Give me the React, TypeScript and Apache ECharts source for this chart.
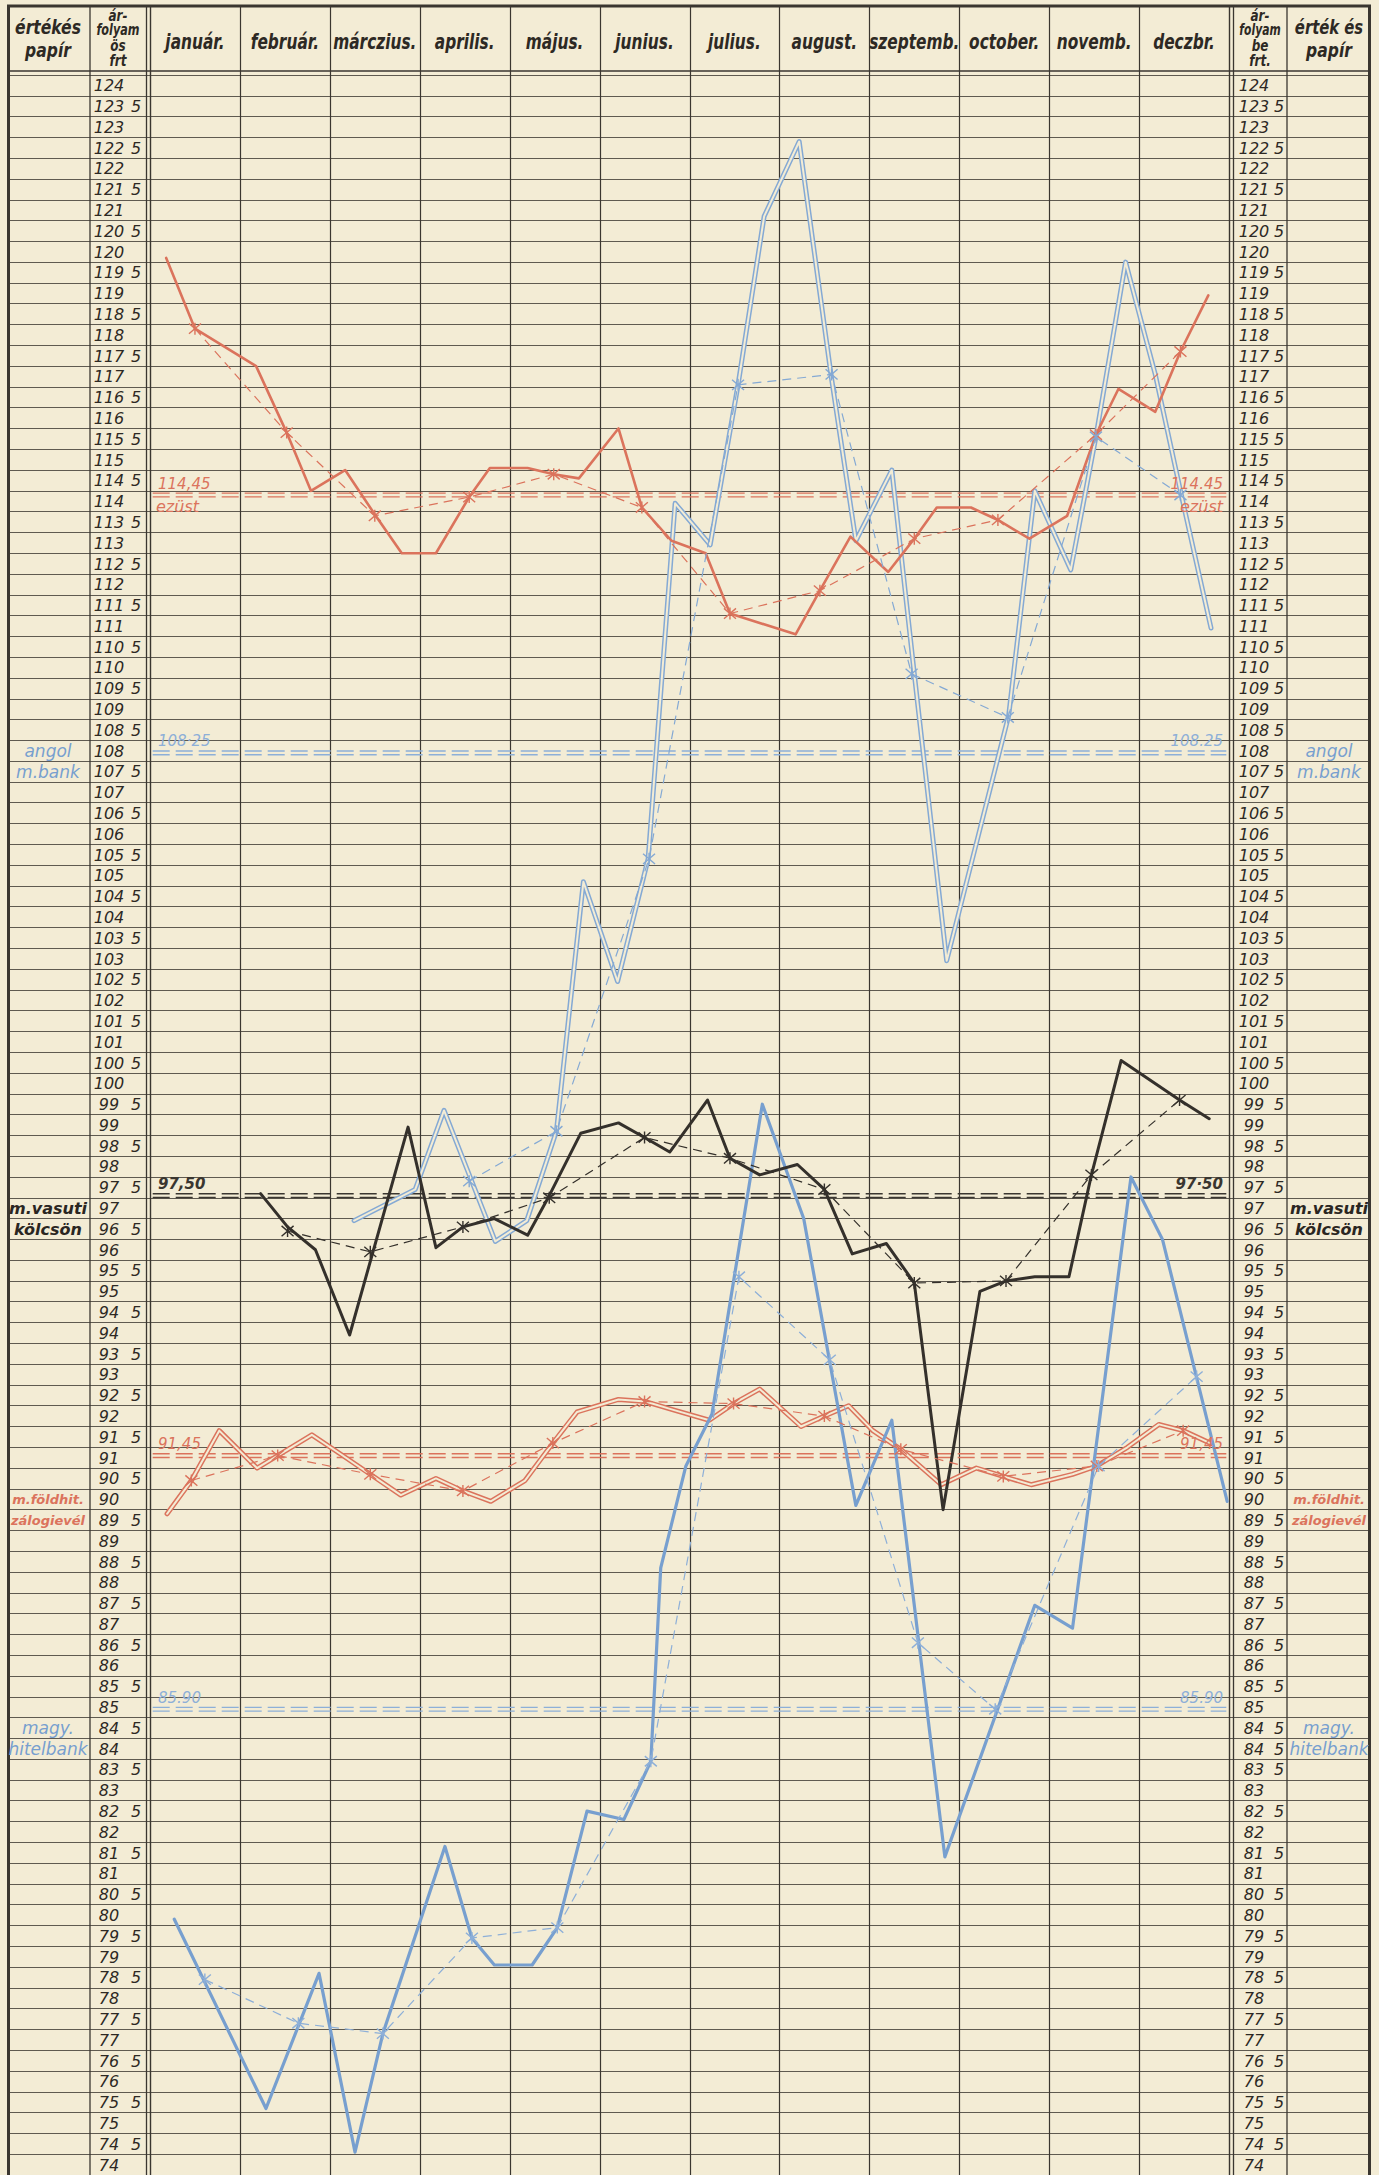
import React, { useEffect, useRef } from 'react';
import * as echarts from 'echarts';

// ---------- data (x = position in months, 0 = 1st of January; y = price in frt) ----------
const MONTHS = ['január.', 'február.', 'márczius.', 'aprilis.', 'május.', 'junius.', 'julius.', 'august.', 'szeptemb.', 'october.', 'novemb.', 'deczbr.'];

// ezüst (silver) – red single line
const ezustX = [0.18, 0.5, 1.18, 1.52, 1.79, 2.17, 2.51, 2.8, 3.18, 3.55, 3.78, 4.2, 4.49, 4.77, 5.21, 5.47, 5.8, 6.18, 6.45, 7.18, 7.45, 7.79, 8.21, 8.5, 8.75, 9.13, 9.43, 9.78, 10.2, 10.52, 10.77, 11.18, 11.46, 11.77];
const ezustY = [120.1, 118.4, 117.5, 115.9, 114.5, 115.0, 113.9, 113.0, 113.0, 114.35, 115.05, 115.05, 114.9, 114.8, 116.0, 114.1, 113.3, 113.0, 111.55, 111.05, 112.1, 113.4, 112.55, 113.35, 114.1, 114.1, 113.8, 113.35, 113.9, 115.85, 116.95, 116.4, 117.85, 119.2];
const ezustAvgX = [0.5, 1.52, 2.5, 3.55, 4.49, 5.47, 6.45, 7.45, 8.5, 9.43, 10.52, 11.46];
const ezustAvgY = [118.4, 115.9, 113.9, 114.35, 114.9, 114.1, 111.55, 112.1, 113.35, 113.8, 115.85, 117.85];

// angol m.bank – blue double line
const angolX = [2.27, 2.95, 3.27, 3.84, 4.19, 4.52, 4.82, 5.2, 5.54, 5.84, 6.23, 6.54, 6.83, 7.22, 7.58, 7.85, 8.25, 8.5, 8.86, 9.55, 9.84, 10.24, 10.52, 10.85, 11.18, 11.47, 11.8];
const angolY = [96.95, 97.7, 99.6, 96.45, 96.95, 99.1, 105.1, 102.7, 105.65, 114.2, 113.2, 117.05, 121.1, 122.9, 117.2, 113.3, 115.0, 110.1, 103.2, 109.1, 114.5, 112.6, 115.8, 120.0, 117.3, 114.4, 111.2];
const angolAvgX = [3.55, 4.52, 5.55, 6.54, 7.58, 8.47, 9.54, 10.52, 11.46];
const angolAvgY = [97.9, 99.1, 105.65, 117.05, 117.3, 110.1, 109.05, 115.8, 114.4];

// m.vasuti kölcsön – black line
const vasutiX = [1.23, 1.53, 1.84, 2.22, 2.87, 3.18, 3.48, 3.83, 4.2, 4.44, 4.79, 5.21, 5.5, 5.78, 6.2, 6.45, 6.78, 7.2, 7.5, 7.81, 8.19, 8.5, 8.82, 9.23, 9.52, 9.84, 10.22, 10.47, 10.8, 11.45, 11.78];
const vasutiY = [97.6, 96.8, 96.25, 94.2, 99.2, 96.3, 96.8, 97.0, 96.6, 97.55, 99.05, 99.3, 98.95, 98.6, 99.85, 98.45, 98.05, 98.3, 97.7, 96.15, 96.4, 95.45, 90.0, 95.25, 95.5, 95.6, 95.6, 98.05, 100.8, 99.85, 99.4];
const vasutiAvgX = [1.53, 2.45, 3.48, 4.44, 5.5, 6.45, 7.5, 8.5, 9.52, 10.47, 11.45];
const vasutiAvgY = [96.7, 96.2, 96.8, 97.5, 98.95, 98.45, 97.7, 95.45, 95.5, 98.05, 99.85];

// m.földhit. zálogievél – red double line
const foldX = [0.19, 0.46, 0.77, 1.19, 1.42, 1.8, 2.11, 2.45, 2.79, 3.18, 3.48, 3.79, 4.17, 4.48, 4.75, 5.21, 5.51, 5.82, 6.22, 6.49, 6.78, 7.24, 7.5, 7.77, 8.04, 8.35, 8.8, 9.19, 9.49, 9.8, 10.26, 10.53, 10.87, 11.22, 11.49, 11.79];
const foldY = [89.9, 90.7, 91.9, 91.0, 91.3, 91.8, 91.35, 90.85, 90.35, 90.75, 90.45, 90.2, 90.7, 91.6, 92.35, 92.65, 92.6, 92.4, 92.15, 92.55, 92.9, 92.0, 92.25, 92.5, 91.9, 91.45, 90.6, 91.0, 90.8, 90.6, 90.85, 91.05, 91.5, 92.05, 91.9, 91.6];
const foldAvgX = [0.46, 1.42, 2.45, 3.48, 4.48, 5.5, 6.49, 7.5, 8.35, 9.49, 10.53, 11.49];
const foldAvgY = [90.7, 91.3, 90.85, 90.45, 91.6, 92.6, 92.55, 92.25, 91.45, 90.8, 91.05, 91.9];

// magy. hitelbank – blue single line
const magyX = [0.27, 1.29, 1.88, 2.28, 2.59, 3.28, 3.58, 3.83, 4.25, 4.53, 4.86, 5.27, 5.57, 5.68, 5.96, 6.25, 6.81, 7.27, 7.85, 8.25, 8.84, 9.84, 10.26, 10.91, 11.26, 11.98];
const magyY = [80.15, 75.6, 78.85, 74.55, 77.4, 81.9, 79.7, 79.05, 79.05, 79.95, 82.75, 82.55, 83.95, 88.6, 91.05, 92.3, 99.75, 97.0, 90.1, 92.15, 81.65, 87.7, 87.15, 98.0, 96.5, 90.2];
const magyAvgX = [0.61, 1.65, 2.59, 3.58, 4.53, 5.57, 6.55, 7.56, 8.54, 9.4, 10.55, 11.64];
const magyAvgY = [78.7, 77.65, 77.4, 79.7, 79.95, 83.95, 95.6, 93.6, 86.8, 85.2, 91.05, 93.2];

// reference (yearly) levels, as drawn
const refValues = [114.4, 108.2, 97.55, 91.3, 85.2];
const refLeftText = ['114,45', '108·25', '97,50', '91,45', '85.90'];
const refRightText = ['114.45', '108.25', '97·50', '91,45', '85.90'];

// axis
const Y_MIN = 74;
const Y_MAX = 124.5;
const Y_STEP = 0.5;

// ---------- style ----------
const W = 1379;
const H = 2175;
const PAPER = '#F3ECD5';
const INK = '#3a3630';
const GRIDC = '#5f5a50';
const RED = '#DB735C';
const BLUE = '#779FCF';
const BLUE_L = '#84A9D4';
const BLUE_D = '#8DAFD8';
const HAND = "'DejaVu Sans', 'Noto Sans', sans-serif";
const HEAD = "'DejaVu Sans', sans-serif";

const GRID_L = 7;
const GRID_R = 1371;
const GRID_TOP = 75;
const M0 = 150;
const M12 = 1229;
const MW = (M12 - M0) / 12;
const X_MIN = -(M0 - GRID_L) / MW;
const X_MAX = 12 + (GRID_R - M12) / MW;

const STAR = 'path://M0,0L12,12M12,0L0,12M6,-1L6,13';

const zip = (xs: number[], ys: number[]) => xs.map((x, i) => [x, ys[i]]);

const solid = (data: number[][], color: string, width: number, z: number) => ({
  type: 'line', data, showSymbol: false, symbol: 'none', silent: true, z,
  lineStyle: { color, width, join: 'round', cap: 'round' },
});

const doubleLine = (data: number[][], color: string, z: number) => [
  solid(data, color, 5, z),
  solid(data, PAPER, 2, z + 0.5),
];

const avgLine = (data: number[][], color: string, z: number) => ({
  type: 'line', data, silent: true, z,
  symbol: STAR, symbolSize: 12, showSymbol: true,
  itemStyle: { color: 'transparent', borderColor: color, borderWidth: 1.4 },
  lineStyle: { color, width: 1.2, type: [9, 6] },
});

const refColors = [RED, BLUE_D, INK, RED, BLUE_D];

const refSeries = () => {
  const out: any[] = [];
  refValues.forEach((v, i) => {
    [0.045, -0.045].forEach((d) => {
      out.push({
        type: 'line', silent: true, z: 1, symbol: 'none', showSymbol: false,
        data: [[0.03, v + d], [11.97, v + d]],
        lineStyle: { color: refColors[i], width: 1.4, type: [17, 6] },
      });
    });
  });
  return out;
};

const numStyle = { fontSize: 16, fontStyle: 'italic', fontFamily: HAND, color: '#2d2924', lineHeight: 20 };

const numLabel = (right: boolean) => (v: number) => {
  if (v > Y_MAX - 0.25) return '';
  const whole = Math.floor(v + 1e-9);
  const half = v - whole > 0.25;
  if (right && Math.abs(v - 84) < 1e-6) return '{n|84}{h|5}';
  return half ? `{n|${whole}}{h|5}` : `{n|${whole}}`;
};

const sideNames: Record<string, string> = {
  '108': '{b|angol}',
  '107.5': '{b|m.bank}',
  '97': '{k|m.vasuti}',
  '96.5': '{k|kölcsön}',
  '90': '{r|m.földhit.}',
  '89.5': '{r|zálogievél}',
  '84.5': '{b|magy.}',
  '84': '{b|hitelbank}',
};

const sideRich = {
  b: { fontSize: 17, fontStyle: 'italic', fontFamily: HAND, color: BLUE, lineHeight: 20 },
  k: { fontSize: 16, fontStyle: 'italic', fontWeight: 'bold', fontFamily: HAND, color: '#2a2622', lineHeight: 20 },
  r: { fontSize: 13, fontStyle: 'italic', fontWeight: 'bold', fontFamily: HAND, color: RED, lineHeight: 20 },
};

const baseY = {
  type: 'value', min: Y_MIN, max: Y_MAX, interval: Y_STEP,
  axisLine: { show: false }, axisTick: { show: false },
};

function buildOption() {
  return {
    animation: false,
    backgroundColor: PAPER,
    grid: { left: GRID_L, right: W - GRID_R, top: GRID_TOP, bottom: 0 },
    xAxis: { type: 'value', min: X_MIN, max: X_MAX, show: false },
    yAxis: [
      {
        ...baseY, position: 'left',
        splitLine: { show: true, lineStyle: { color: GRIDC, width: 1 } },
        axisLabel: {
          inside: true, margin: 81, align: 'left', verticalAlign: 'bottom',
          formatter: numLabel(false),
          rich: { n: { ...numStyle, width: 42, align: 'center' }, h: { ...numStyle, width: 12, align: 'left' } },
        },
      },
      {
        ...baseY, position: 'right', splitLine: { show: false },
        axisLabel: {
          inside: true, margin: 136, align: 'left', verticalAlign: 'bottom',
          formatter: numLabel(true),
          rich: { n: { ...numStyle, width: 38, align: 'center' }, h: { ...numStyle, width: 12, align: 'left' } },
        },
      },
      {
        ...baseY, position: 'left', splitLine: { show: false },
        axisLabel: {
          inside: true, margin: 41, align: 'center', verticalAlign: 'bottom',
          formatter: (v: number) => sideNames[String(v)] || '', rich: sideRich,
        },
      },
      {
        ...baseY, position: 'right', splitLine: { show: false },
        axisLabel: {
          inside: true, margin: 42, align: 'center', verticalAlign: 'bottom',
          formatter: (v: number) => sideNames[String(v)] || '', rich: sideRich,
        },
      },
    ],
    series: [
      ...refSeries(),
      ...doubleLine(zip(angolX, angolY), BLUE_L, 2),
      ...doubleLine(zip(foldX, foldY), RED, 2),
      solid(zip(magyX, magyY), BLUE, 3.2, 4),
      solid(zip(vasutiX, vasutiY), '#34302b', 3, 5),
      solid(zip(ezustX, ezustY), RED, 2.6, 5),
      avgLine(zip(ezustAvgX, ezustAvgY), RED, 6),
      avgLine(zip(angolAvgX, angolAvgY), BLUE_L, 6),
      avgLine(zip(vasutiAvgX, vasutiAvgY), '#34302b', 6),
      avgLine(zip(foldAvgX, foldAvgY), RED, 6),
      avgLine(zip(magyAvgX, magyAvgY), BLUE_D, 6),
    ],
  };
}

function buildGraphic(chart: any) {
  const px = (m: number) => chart.convertToPixel({ xAxisIndex: 0 }, m) as number;
  const py = (v: number) => chart.convertToPixel({ yAxisIndex: 0 }, v) as number;
  const els: any[] = [];
  const vline = (x: number, w: number) => els.push({
    type: 'line', silent: true, z: 0,
    shape: { x1: x, y1: 5, x2: x, y2: H }, style: { stroke: INK, lineWidth: w },
  });
  const hline = (y: number, w: number) => els.push({
    type: 'line', silent: true, z: 0,
    shape: { x1: GRID_L, y1: y, x2: GRID_R, y2: y }, style: { stroke: INK, lineWidth: w },
  });
  const text = (t: string, x: number, y: number, o: any = {}) => els.push({
    type: 'text', silent: true, z: 10, x, y, scaleX: o.sx || 1,
    style: {
      text: t, fill: o.fill || '#2d2924', align: o.align || 'center', verticalAlign: o.va || 'middle',
      fontSize: o.size || 16, fontFamily: o.family || HEAD, fontStyle: 'italic', fontWeight: o.weight || 'bold',
    },
  });

  for (let k = 0; k <= 12; k++) vline(Math.round(px(k)) + 0.5, k === 0 || k === 12 ? 1.4 : 1.2);
  vline(Math.round(px(0)) - 3.5, 1.3);
  vline(Math.round(px(12)) + 4.5, 1.3);
  vline(GRID_L + 1.5, 3);
  vline(90, 1.3);
  vline(1287, 1.3);
  vline(GRID_R - 1.5, 3);
  hline(6, 3);
  hline(71, 1.6);

  // header
  MONTHS.forEach((m, i) => text(m, px(i + 0.5), 41, { size: 22, sx: 0.7 }));
  text('értékés', 48, 27, { size: 19, sx: 0.82 });
  text('papír', 48, 50, { size: 19, sx: 0.82 });
  const lx = (90 + px(0) - 4) / 2;
  text('ár-', lx, 15, { size: 15, sx: 0.8 });
  text('folyam', lx, 30, { size: 15, sx: 0.75 });
  text('ös', lx, 45, { size: 15, sx: 0.8 });
  text('frt', lx, 60, { size: 15, sx: 0.8 });
  const rx = (px(12) + 4 + 1287) / 2;
  text('ár-', rx, 15, { size: 15, sx: 0.8 });
  text('folyam', rx, 30, { size: 15, sx: 0.72 });
  text('be', rx, 45, { size: 15, sx: 0.8 });
  text('frt.', rx, 60, { size: 15, sx: 0.8 });
  text('érték és', (1287 + GRID_R) / 2, 27, { size: 19, sx: 0.78 });
  text('papír', (1287 + GRID_R) / 2, 50, { size: 19, sx: 0.82 });

  // reference line labels
  refValues.forEach((v, i) => {
    const y = py(v);
    const c = refColors[i];
    const lo = { fill: c, size: 15, family: HAND, weight: i === 2 ? 'bold' : 'normal', va: 'bottom' };
    text(refLeftText[i], px(0) + 8, y - 4, { ...lo, align: 'left' });
    text(refRightText[i], px(12) - 6, y - 4, { ...lo, align: 'right' });
  });
  const ye = py(refValues[0]);
  text('ezüst', px(0) + 6, ye + 3, { fill: RED, size: 16, family: HAND, weight: 'normal', va: 'top', align: 'left' });
  text('ezüst', px(12) - 6, ye + 3, { fill: RED, size: 16, family: HAND, weight: 'normal', va: 'top', align: 'right' });
  return els;
}

export default function App() {
  const ref = useRef<HTMLDivElement>(null);
  useEffect(() => {
    const el = ref.current as HTMLDivElement;
    const chart = echarts.init(el, null, { renderer: 'svg' });
    chart.setOption(buildOption() as any);
    chart.setOption({ graphic: buildGraphic(chart) } as any);
    return () => chart.dispose();
  }, []);
  return (
    <div
      ref={ref}
      style={{ position: 'absolute', left: 0, top: 0, width: W, height: H, background: PAPER }}
    />
  );
}
